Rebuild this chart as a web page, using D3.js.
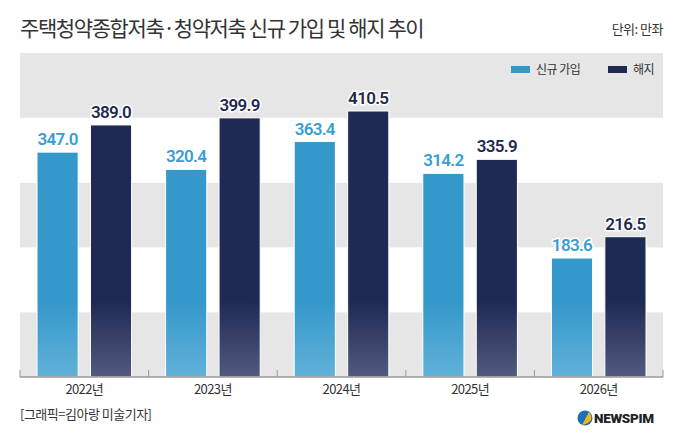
<!DOCTYPE html>
<html>
<head>
<meta charset="utf-8">
<script src="https://cdn.jsdelivr.net/npm/d3@7"></script>
<style>
  body { margin: 0; background: #fff; }
  text { font-family: "Noto Sans CJK KR", "Noto Sans", sans-serif; }
</style>
</head>
<body>
<div id="chart"></div>
<script>
// data
var years = ["2022년", "2023년", "2024년", "2025년", "2026년"];
var joinVals = [347.0, 320.4, 363.4, 314.2, 183.6];
var cancelVals = [389.0, 399.9, 410.5, 335.9, 216.5];
var seriesNames = ["신규 가입", "해지"];
var bandTicks = [0, 100, 200, 300, 400];

var W = 680, H = 442;
var margin = { top: 53, right: 17, bottom: 65, left: 20 },
    width = W - margin.left - margin.right,
    height = H - margin.top - margin.bottom;

var svg = d3.select("#chart")
    .append("svg")
    .attr("width", W)
    .attr("height", H);

var defs = svg.append("defs");

function grad(id, top, bottom) {
    var g = defs.append("linearGradient")
        .attr("id", id)
        .attr("gradientUnits", "userSpaceOnUse")
        .attr("x1", 0).attr("x2", 0)
        .attr("y1", margin.top + 195).attr("y2", margin.top + height);
    g.append("stop").attr("offset", "0%").attr("stop-color", top);
    g.append("stop").attr("offset", "100%").attr("stop-color", bottom);
}
grad("gBlue", "#3498ca", "#80c2e2");
grad("gNavy", "#1f2a54", "#747b9b");

// title
svg.append("text")
    .attr("x", 20)
    .attr("y", 36)
    .style("font-size", "21px")
    .style("fill", "#333")
    .style("letter-spacing", "-1.4px")
    .text("주택청약종합저축·청약저축 신규 가입 및 해지 추이");

svg.append("text")
    .attr("x", 663)
    .attr("y", 34)
    .attr("text-anchor", "end")
    .style("font-size", "13px")
    .style("fill", "#333")
    .style("letter-spacing", "-0.5px")
    .text("단위: 만좌");

var g = svg.append("g")
    .attr("transform", "translate(" + margin.left + "," + margin.top + ")");

var y = d3.scaleLinear()
    .domain([0, 500])
    .range([height, 0]);

var x = d3.scaleBand()
    .domain(years)
    .range([0, width]);

var x1 = d3.scaleBand()
    .domain(seriesNames)
    .range([17, x.bandwidth() - 17])
    .paddingInner(0.23);

// background bands
g.selectAll(".band")
    .data(bandTicks)
    .enter()
    .append("rect")
    .attr("class", "band")
    .attr("x", 0)
    .attr("width", width)
    .attr("y", function (d) { return y(d + 100); })
    .attr("height", function (d) { return y(d) - y(d + 100); })
    .attr("fill", function (d, i) { return i % 2 == 0 ? "#e6e6e6" : "#fff"; });

// bars
var rows = years.map(function (yr, i) {
    return { year: yr, vals: [joinVals[i], cancelVals[i]] };
});
var fills = ["url(#gBlue)", "url(#gNavy)"];
var labelColors = ["#3a9dd3", "#1f2a50"];

var grp = g.selectAll(".grp")
    .data(rows)
    .enter()
    .append("g")
    .attr("transform", function (d) { return "translate(" + x(d.year) + ",0)"; });

grp.selectAll("rect")
    .data(function (d) { return d.vals; })
    .enter()
    .append("rect")
    .attr("x", function (d, i) { return x1(seriesNames[i]); })
    .attr("y", function (d) { return y(d); })
    .attr("width", x1.bandwidth())
    .attr("height", function (d) { return height - y(d); })
    .attr("fill", function (d, i) { return fills[i]; })
    .attr("stroke", "#fff")
    .attr("stroke-width", 1);

grp.selectAll(".val")
    .data(function (d) { return d.vals; })
    .enter()
    .append("text")
    .attr("class", "val")
    .attr("x", function (d, i) { return x1(seriesNames[i]) + x1.bandwidth() / 2; })
    .attr("y", function (d) { return y(d) - 7; })
    .attr("text-anchor", "middle")
    .style("font-family", "Roboto, sans-serif")
    .style("font-size", "17px")
    .style("font-weight", "600")
    .style("letter-spacing", "-0.7px")
    .style("paint-order", "stroke")
    .style("stroke", "#fff")
    .style("stroke-width", "3px")
    .style("fill", function (d, i) { return labelColors[i]; })
    .text(function (d) { return d.toFixed(1); });

// x axis
var xAxis = g.append("g")
    .attr("transform", "translate(0," + height + ")");
xAxis.append("line")
    .attr("x1", 0).attr("x2", width)
    .attr("stroke", "#999").attr("stroke-width", 1.5);
xAxis.selectAll(".tk")
    .data(d3.range(years.length + 1))
    .enter()
    .append("line")
    .attr("x1", function (d) { return d * x.step(); })
    .attr("x2", function (d) { return d * x.step(); })
    .attr("y1", 0).attr("y2", -7)
    .attr("stroke", "#999");
xAxis.selectAll(".yr")
    .data(years)
    .enter()
    .append("text")
    .attr("x", function (d) { return x(d) + x.bandwidth() / 2; })
    .attr("y", 17)
    .attr("text-anchor", "middle")
    .style("font-size", "13px")
    .style("fill", "#333")
    .style("letter-spacing", "-0.6px")
    .text(function (d) { return d; });

// legend
var leg = svg.append("g").attr("transform", "translate(511,63)");
var legX = [0, 97];
seriesNames.forEach(function (s, i) {
    leg.append("rect")
        .attr("x", legX[i]).attr("y", 3)
        .attr("width", 19).attr("height", 7)
        .attr("fill", i == 0 ? "#3498ca" : "#1f2a54");
    leg.append("text")
        .attr("x", legX[i] + 25).attr("y", 11)
        .style("font-size", "12px")
        .style("fill", "#333")
        .style("letter-spacing", "-0.5px")
        .text(s);
});

// footer
svg.append("text")
    .attr("x", 20)
    .attr("y", 419)
    .style("font-size", "13px")
    .style("fill", "#333")
    .style("letter-spacing", "-0.5px")
    .text("[그래픽=김아랑 미술기자]");

var logo = svg.append("g").attr("transform", "translate(585,418)");
logo.append("circle").attr("r", 7.5).attr("fill", "#1d6fb8");
logo.append("path")
    .attr("d", "M-3,7 L4,-6 Q7,-3 6,2 Q3,6 -3,7 Z")
    .attr("fill", "#f2b51c");
svg.append("text")
    .attr("x", 594)
    .attr("y", 423)
    .style("font-family", "Roboto, sans-serif")
    .style("font-size", "13.5px")
    .style("font-weight", "900")
    .style("fill", "#222")
    .style("letter-spacing", "-0.3px")
    .text("NEWSPIM");
</script>
</body>
</html>
